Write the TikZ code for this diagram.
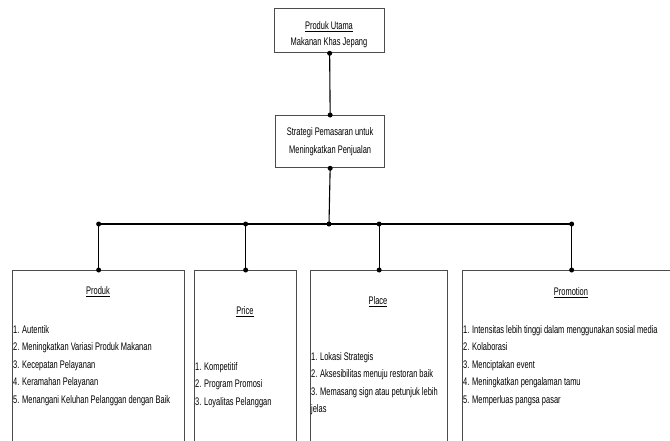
\documentclass[tikz,border=0pt]{standalone}
\usepackage{fontspec}
\setmainfont{Liberation Sans}
\usetikzlibrary{positioning}

\begin{document}
\begin{tikzpicture}[
    x=1pt, y=-1pt,
    box/.style={draw=black!70, line width=1.3pt, inner sep=0pt, anchor=north west},
    txt/.style={inner sep=0pt, xscale=0.68, font=\fontsize{11}{16}\selectfont, align=center},
    items/.style={inner sep=0pt, xscale=0.68, font=\fontsize{11}{17.5}\selectfont, align=left, anchor=north west},
    conn/.style={draw=black, line width=1.1pt},
    dot/.style={circle, fill=black, inner sep=0pt, minimum size=5pt}
]
    \clip (0,0) rectangle (670,440);

    % --- top boxes ---
    \node[box, minimum width=110pt, minimum height=44pt] (utama) at (274,8) {};
    \node[txt] (utamaT) at (329,35) {\underline{Produk Utama}\\Makanan Khas Jepang};
    \node[box, minimum width=109pt, minimum height=52pt] (strategi) at (275,115) {};
    \node[txt, font=\fontsize{11}{18}\selectfont] (strategiT) at (strategi) {Strategi Pemasaran untuk\\Meningkatkan Penjualan};

    % --- the four boxes ---
    \node[box, minimum width=172pt, minimum height=190pt] (produk) at (12,270) {};
    \node[box, minimum width=102pt, minimum height=190pt] (price) at (194,270) {};
    \node[box, minimum width=137pt, minimum height=190pt] (place) at (310,270) {};
    \node[box, minimum width=218pt, minimum height=190pt] (promotion) at (462,270) {};

    \node[txt] (produkT) at (98,292) {\underline{Produk}};
    \node[txt] (priceT) at (245,312) {\underline{Price}};
    \node[txt] (placeT) at (378,302) {\underline{Place}};
    \node[txt] (promotionT) at (571,293) {\underline{Promotion}};

    \node[items] (produkL) at (13,325) {1. Autentik\\2. Meningkatkan Variasi Produk Makanan\\3. Kecepatan Pelayanan\\4. Keramahan Pelayanan\\5. Menangani Keluhan Pelanggan dengan Baik};
    \node[items] (priceL) at (195,362) {1. Kompetitif\\2. Program Promosi\\3. Loyalitas Pelanggan};
    \node[items] (placeL) at (311,352) {1. Lokasi Strategis\\2. Aksesibilitas menuju restoran baik\\3. Memasang sign atau petunjuk lebih\\jelas};
    \node[items] (promotionL) at (463,325) {1. Intensitas lebih tinggi dalam menggunakan sosial media\\2. Kolaborasi\\3. Menciptakan event\\4. Meningkatkan pengalaman tamu\\5. Memperluas pangsa pasar};

    % --- connectors ---
    \coordinate (bus) at (329,224);
    \draw[conn] (utama.south) -- (strategi.north);
    \draw[conn] (strategi.south) -- (bus);
    \draw[conn] (produk.north |- bus) -- (promotion.north |- bus);
    \foreach \b in {produk, price, place, promotion} {
        \draw[conn] (\b.north |- bus) -- (\b.north);
        \node[dot] at (\b.north |- bus) {};
        \node[dot] at (\b.north) {};
    }
    \foreach \p in {utama.south, strategi.north, strategi.south, bus} {
        \node[dot] at (\p) {};
    }
\end{tikzpicture}
\end{document}
